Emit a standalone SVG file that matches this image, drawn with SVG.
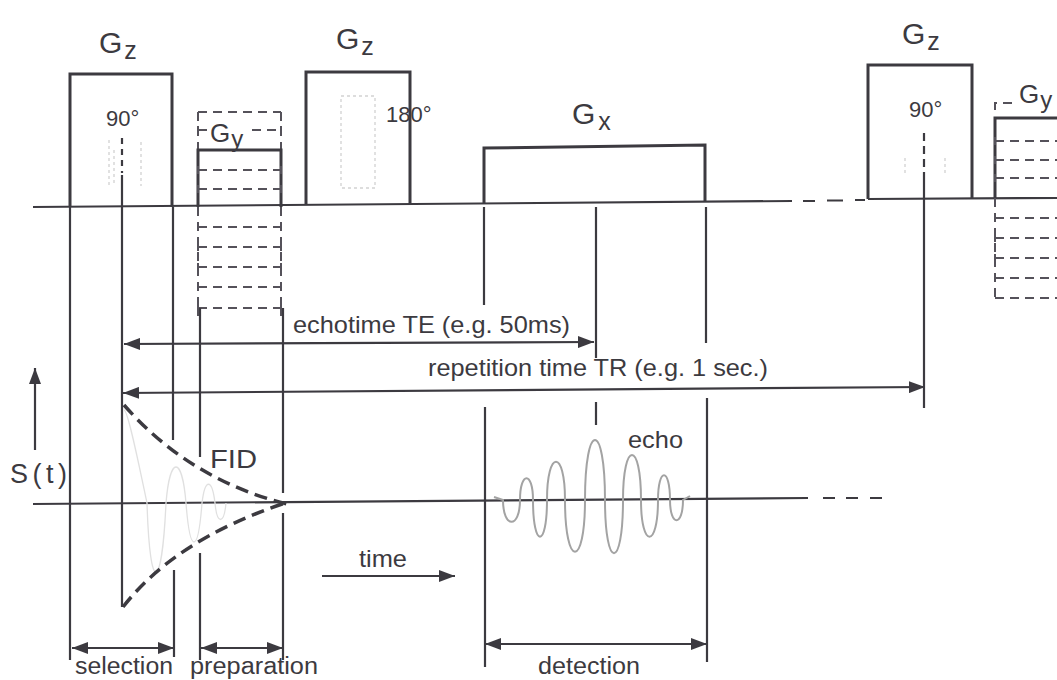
<svg xmlns="http://www.w3.org/2000/svg" width="1057" height="680" viewBox="0 0 1057 680">
<defs>
<style>
.ln{stroke:#3c3a40;stroke-width:2.2;fill:none}
.box{stroke:#3c3a40;stroke-width:3;fill:none;stroke-linejoin:miter}
.dash{stroke:#55525a;stroke-width:2;stroke-dasharray:9 6;fill:none}
.tick{stroke:#55525a;stroke-width:2;fill:none}
.t{font-family:"Liberation Sans",Arial,Helvetica,sans-serif;fill:#3c3a40}
.faint{stroke:#e0e0e0;stroke-width:1.3;fill:none}
.fdot{stroke:#d2d2d2;stroke-width:1.3;stroke-dasharray:3 3;fill:none}
.echo{stroke:#a3a3a3;stroke-width:2;fill:none}
.env{stroke:#3c3a40;stroke-width:3.5;stroke-dasharray:13 7;fill:none}
.arr{stroke:#3c3a40;stroke-width:2.2;fill:none;marker-start:url(#ah);marker-end:url(#ah)}
</style>
<marker id="ah" viewBox="0 0 16 12" refX="16" refY="6" markerWidth="16" markerHeight="12" markerUnits="userSpaceOnUse" orient="auto-start-reverse"><path d="M0,0 L16,6 L0,12 z" fill="#3c3a40"/></marker>
</defs>
<rect width="1057" height="680" fill="#ffffff"/>

<g id="axes">
<path class="ln" d="M33,207 L792,201"/>
<path class="ln" d="M803,201 L815,201 M827,200.5 L843,200.5 M855,200 L865,200"/>
<path class="ln" d="M868,199 L1057,198"/>
<path class="ln" d="M33,504 L808,498"/>
<path class="ln" d="M823,498 L835,498 M846,498 L858,498 M870,498 L882,498"/>
</g>

<g id="gz1">
<path class="box" d="M70,207 L70,74 L172,74 L172,207"/>
<text class="t" x="99" y="53" font-size="30">G<tspan font-size="25" dx="2" dy="6">z</tspan></text>
<text class="t" x="106" y="126" font-size="22">90°</text>
<path class="fdot" d="M109,140 L109,186 M114,150 L114,185 M141,142 L141,186"/>
</g>

<g id="gy1">
<path class="dash" d="M198,112 L281,112 M198,112 L198,150 M281,112 L281,150 M198,207 L198,308 M281,207 L281,308"/>
<path class="box" d="M198,207 L198,150 L281,150 L281,207"/>
<path class="dash" d="M198,130 L208,130 M252,130 L281,130"/>
<path class="dash" d="M198,170 L281,170 M198,189 L281,189 M198,227 L281,227 M198,247 L281,247 M198,267 L281,267 M198,287 L281,287 M198,308 L281,308"/>
<path class="tick" d="M198,126 L198,134 M281,126 L281,134 M198,166 L198,174 M281,166 L281,174 M198,185 L198,193 M281,185 L281,193 M198,223 L198,231 M281,223 L281,231 M198,243 L198,251 M281,243 L281,251 M198,263 L198,271 M281,263 L281,271 M198,283 L198,291 M281,283 L281,291 M198,304 L198,316 M281,304 L281,316"/>
<text class="t" x="210" y="142" font-size="26">G<tspan font-size="24" dx="1" dy="5">y</tspan></text>
</g>

<g id="gz2">
<path class="box" d="M306,204 L306,72 L410,72 L410,204"/>
<text class="t" x="336" y="49" font-size="30">G<tspan font-size="25" dx="2" dy="6">z</tspan></text>
<rect class="fdot" x="341" y="96" width="34" height="92"/>
<text class="t" x="386" y="122" font-size="22">180°</text>
</g>

<g id="gx">
<path class="box" d="M484,203 L484,148 L705,145 L705,202"/>
<text class="t" x="572" y="124" font-size="30">G<tspan font-size="25" dx="3" dy="6">x</tspan></text>
</g>

<g id="gz3">
<path class="box" d="M868,199 L868,65 L972,65 L972,199"/>
<text class="t" x="902" y="44" font-size="30">G<tspan font-size="25" dx="2" dy="6">z</tspan></text>
<text class="t" x="909" y="117" font-size="22">90°</text>
<path class="fdot" d="M905,158 L905,176 M945,158 L945,174"/>
</g>

<g id="gy2">
<path class="dash" d="M995,110 L995,103 L1013,103 M995,198 L995,300"/>
<path class="box" d="M995,198 L995,118 L1057,118"/>
<path class="dash" d="M995,141 L1057,141 M995,160 L1057,160 M995,178 L1057,178 M995,218 L1057,218 M995,238 L1057,238 M995,258 L1057,258 M995,278 L1057,278 M995,298 L1057,298"/>
<path class="tick" d="M995,137 L995,145 M995,156 L995,164 M995,174 L995,182 M995,214 L995,222 M995,234 L995,242 M995,254 L995,262 M995,274 L995,282"/>
<text class="t" x="1019" y="103" font-size="26">G<tspan font-size="24" dx="1" dy="5">y</tspan></text>
</g>

<g id="signal">
<path class="faint" d="M124,410 C128,410 140,470 147,503 C150,600 162,590 166,503 C170,455 182,455 186,503 C190,555 198,555 202,503 C205,478 212,478 215,503 C217,525 224,525 226,503"/>
<path class="env" d="M124,405 Q190,480 287,504"/>
<path class="env" d="M123,607 Q175,540 285,503"/>
<text class="t" x="210" y="468" font-size="26" textLength="47" lengthAdjust="spacingAndGlyphs">FID</text>
<path class="echo" d="M494,497 L503,500 C503,529 520,529 520,500 C520,471 533,471 533,500 C533,549 547,549 547,500 C547,449 565,449 565,500 C565,569 585,569 585,500 C585,420 605,420 605,500 C605,571 623,571 623,500 C623,440 641,440 641,500 C641,549 658,549 658,500 C658,467 670,467 670,500 C670,527 683,527 683,500 L690,496"/>
<text class="t" x="628" y="448" font-size="24" textLength="55" lengthAdjust="spacingAndGlyphs">echo</text>
<text class="t" x="10" y="483" font-size="27" textLength="57" lengthAdjust="spacing">S(t)</text>
</g>

<g id="connectors">
<path class="ln" d="M70,207 L70,660"/>
<path class="ln" d="M122,175 L122,607"/>
<path class="ln" stroke-dasharray="6 5" stroke="#8a8890" d="M122,138 L122,173"/>
<path class="ln" d="M173,207 L173,440 M174,570 L174,657"/>
<path class="ln" d="M200,308 L200,457 M200,553 L200,660"/>
<path class="ln" d="M283,308 L283,493 M283,513 L283,660"/>
<path class="ln" d="M484,207 L484,305 M485,407 L485,667"/>
<path class="ln" d="M596,207 L596,358 M596,402 L596,425"/>
<path class="ln" d="M706,207 L706,343 M707,398 L707,662"/>
<path class="ln" stroke-dasharray="8 5" d="M924,133 L924,178"/>
<path class="ln" d="M924,178 L924,408"/>
<path class="arr" d="M124,344 L594,342"/>
<path class="arr" d="M123,393 L925,387"/>
<path class="ln" marker-end="url(#ah)" d="M35,450 L35,368"/>
<path class="ln" marker-end="url(#ah)" d="M322,576 L455,576"/>
<path class="arr" d="M72,648 L174,648"/>
<path class="arr" d="M201,648 L283,648"/>
<path class="arr" d="M485,644 L707,644"/>
</g>

<g id="labels">
<text class="t" x="293" y="333" font-size="24" textLength="277" lengthAdjust="spacingAndGlyphs">echotime TE (e.g. 50ms)</text>
<text class="t" x="428" y="376" font-size="24" textLength="340" lengthAdjust="spacingAndGlyphs">repetition time TR (e.g. 1 sec.)</text>
<text class="t" x="359" y="567" font-size="24" textLength="48" lengthAdjust="spacingAndGlyphs">time</text>
<text class="t" x="75" y="674" font-size="23" textLength="98" lengthAdjust="spacingAndGlyphs">selection</text>
<text class="t" x="190" y="674" font-size="23" textLength="128" lengthAdjust="spacingAndGlyphs">preparation</text>
<text class="t" x="538" y="674" font-size="23" textLength="102" lengthAdjust="spacingAndGlyphs">detection</text>
</g>
</svg>
